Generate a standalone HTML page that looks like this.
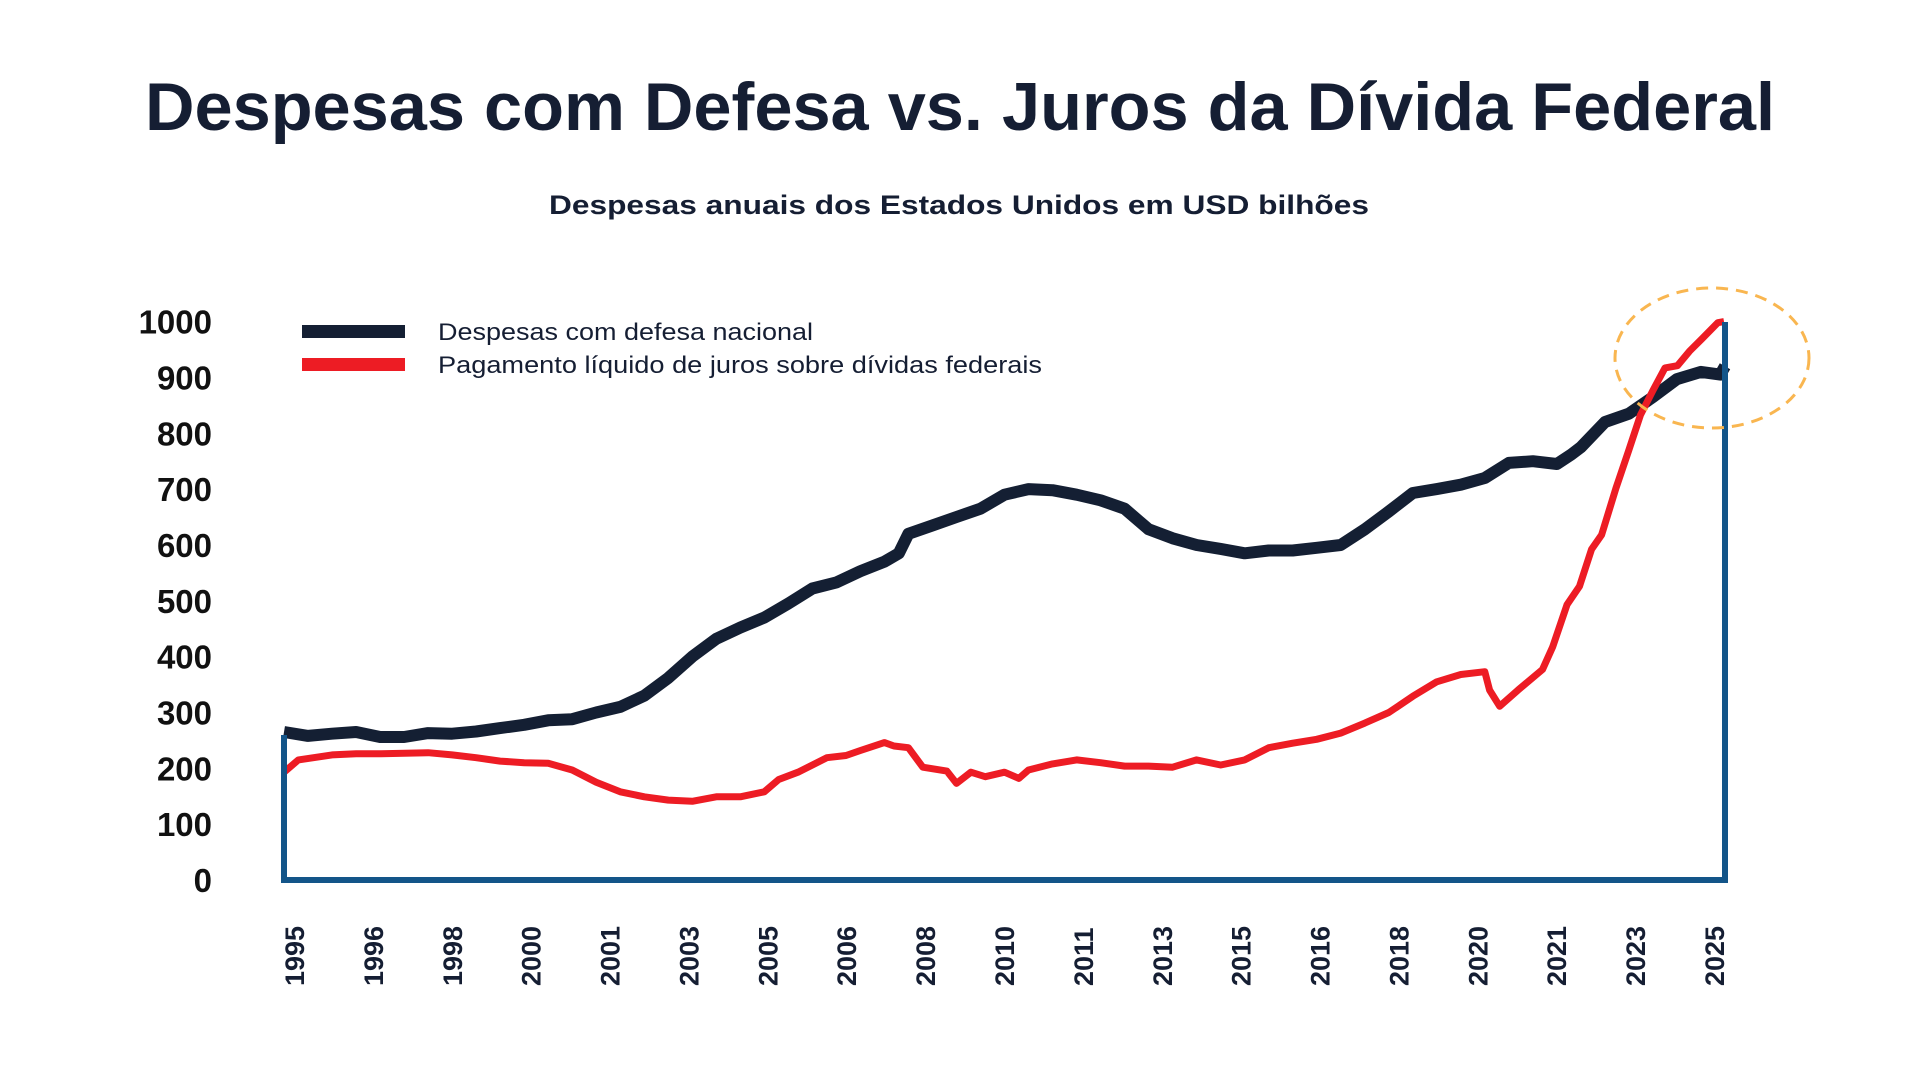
<!DOCTYPE html>
<html><head><meta charset="utf-8"><style>
html,body{margin:0;padding:0;background:#fff;}
svg{display:block;font-family:"Liberation Sans",sans-serif;}
</style></head><body>
<svg id="chart" width="1920" height="1080" viewBox="0 0 1920 1080">
<text x="960" y="130" text-anchor="middle" font-size="68" font-weight="bold" fill="#151e33" textLength="1630" lengthAdjust="spacingAndGlyphs">Despesas com Defesa vs. Juros da Dívida Federal</text>
<text x="959" y="214" text-anchor="middle" font-size="27" font-weight="bold" fill="#151e33" textLength="820" lengthAdjust="spacingAndGlyphs">Despesas anuais dos Estados Unidos em USD bilhões</text>
<g>
<rect x="302" y="325" width="103" height="13" fill="#141f33"/>
<text x="438" y="340" font-size="24" fill="#151e33" textLength="375" lengthAdjust="spacingAndGlyphs">Despesas com defesa nacional</text>
<rect x="302" y="358" width="103" height="13" fill="#ed1c24"/>
<text x="438" y="373" font-size="24" fill="#151e33" textLength="604" lengthAdjust="spacingAndGlyphs">Pagamento líquido de juros sobre dívidas federais</text>
</g>
<g id="yticks"></g>
<g id="xticks"></g>
<g id="series"></g>
<g id="axes"></g>
<ellipse cx="1712" cy="358" rx="97" ry="70" fill="none" stroke="#f9b650" stroke-width="3" stroke-dasharray="12 8"/>
</svg>
<script>
const yTickValues = [0,100,200,300,400,500,600,700,800,900,1000];
const xTickLabels = ["1995","1996","1998","2000","2001","2003","2005","2006","2008","2010","2011","2013","2015","2016","2018","2020","2021","2023","2025"];
const defenseYears = [1995,1995.5,1996,1996.5,1997,1997.5,1998,1998.5,1999,1999.5,2000,2000.5,2001,2001.5,2002,2002.5,2003,2003.5,2004,2004.5,2005,2005.5,2006,2006.5,2007,2007.5,2007.8,2008,2008.5,2009,2009.5,2010,2010.5,2011,2011.5,2012,2012.5,2013,2013.5,2014,2014.5,2015,2015.5,2016,2016.5,2017,2017.5,2018,2018.5,2019,2019.5,2020,2020.5,2021,2021.5,2021.8,2022,2022.5,2023,2023.5,2024,2024.5,2024.9,2025];
const defenseValues = [265,258,262,265,256,256,263,262,266,272,278,286,288,300,310,330,362,400,432,452,470,495,522,533,553,570,585,620,635,650,665,690,700,698,690,680,665,628,612,600,593,585,590,590,595,600,628,660,693,700,708,720,747,750,745,762,775,820,835,865,897,910,905,920];
const interestYears = [1995,1995.3,1996,1996.5,1997,1998,1998.5,1999,1999.5,2000,2000.5,2001,2001.5,2002,2002.5,2003,2003.5,2004,2004.5,2005,2005.3,2005.7,2006,2006.3,2006.7,2007,2007.5,2007.7,2008,2008.3,2008.8,2009,2009.3,2009.6,2010,2010.3,2010.5,2011,2011.5,2012,2012.5,2013,2013.5,2014,2014.5,2015,2015.5,2016,2016.5,2017,2017.5,2018,2018.5,2019,2019.5,2020,2020.1,2020.31,2020.69,2021.2,2021.41,2021.71,2021.97,2022.22,2022.43,2022.73,2022.99,2023.24,2023.5,2023.75,2024.01,2024.26,2024.52,2024.85,2024.98];
const interestValues = [193,215,224,226,226,228,224,219,213,210,209,197,175,158,149,143,141,149,149,158,180,193,206,219,223,232,246,240,237,202,195,173,193,185,193,182,197,208,215,210,204,204,202,215,206,215,237,245,252,263,281,300,329,355,368,373,340,311,340,377,417,493,526,592,618,702,768,833,877,917,921,947,969,998,1000];

const svg = document.getElementById('chart');
const NS = 'http://www.w3.org/2000/svg';
const X0 = 284, X1 = 1725, Y0 = 880, YPER = 0.5584;
function xScale(year){ return X0 + (year - 1995) / 30 * (X1 - X0); }
function yScale(v){ return Y0 - v * YPER; }
function mk(tag, attrs){ const e = document.createElementNS(NS, tag); for (const k in attrs) e.setAttribute(k, attrs[k]); return e; }

const yg = document.getElementById('yticks');
yTickValues.forEach(v => {
  const t = mk('text', {x: 212, y: yScale(v) + 12, 'text-anchor': 'end', 'font-size': 33, 'font-weight': 'bold', fill: '#111'});
  
  
  t.textContent = v;
  yg.appendChild(t);
});

const xg = document.getElementById('xticks');
const xl0 = 294, xl1 = 1714;
xTickLabels.forEach((lab, i) => {
  const cx = xl0 + i * (xl1 - xl0) / (xTickLabels.length - 1);
  const t = mk('text', {x: 0, y: 0, 'text-anchor': 'start', 'font-size': 27, 'font-weight': 'bold', fill: '#151e33', transform: `translate(${cx + 10},986) rotate(-90)`});
  
  
  t.textContent = lab;
  xg.appendChild(t);
});

function pathFrom(years, vals){ return years.map((yr, i) => (i ? 'L' : 'M') + xScale(yr).toFixed(1) + ',' + yScale(vals[i]).toFixed(1)).join(' '); }
const sg = document.getElementById('series');
const pd = mk('path', {d: pathFrom(defenseYears, defenseValues), fill: 'none', stroke: '#141f33', 'stroke-width': 12, 'stroke-linejoin': 'round', 'stroke-linecap': 'butt'});


sg.appendChild(pd);
const pi = mk('path', {d: pathFrom(interestYears, interestValues), fill: 'none', stroke: '#ed1c24', 'stroke-width': 7, 'stroke-linejoin': 'round', 'stroke-linecap': 'butt'});


sg.appendChild(pi);

const ag = document.getElementById('axes');
const la = mk('line', {x1: X0, y1: 735, x2: X0, y2: Y0, stroke: '#135589', 'stroke-width': 6});


ag.appendChild(la);
const ba = mk('line', {x1: X0 - 3, y1: Y0, x2: X1 + 3, y2: Y0, stroke: '#135589', 'stroke-width': 6});


ag.appendChild(ba);
const ra = mk('line', {x1: X1, y1: 322, x2: X1, y2: Y0, stroke: '#135589', 'stroke-width': 6});


ag.appendChild(ra);
</script>
</body></html>
